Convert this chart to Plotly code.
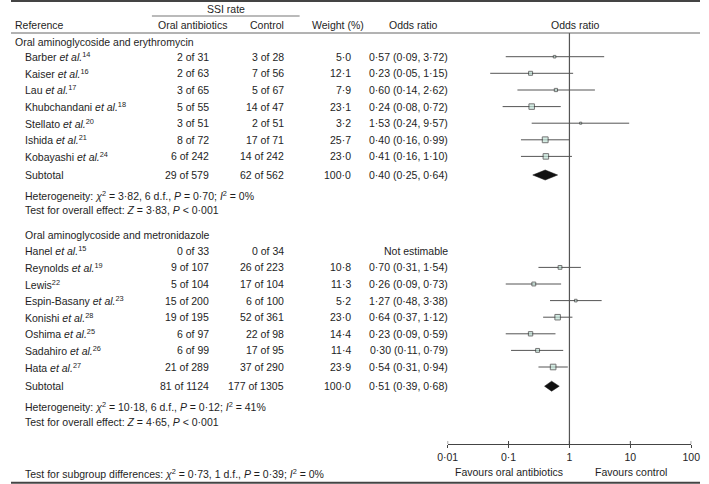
import plotly.graph_objects as go

# ---------------- data ----------------
group1_title = "Oral aminoglycoside and erythromycin"
group2_title = "Oral aminoglycoside and metronidazole"

g1_names = ["Barber <i>et al.</i><sup>14</sup>", "Kaiser <i>et al.</i><sup>16</sup>",
            "Lau <i>et al.</i><sup>17</sup>", "Khubchandani <i>et al.</i><sup>18</sup>",
            "Stellato <i>et al.</i><sup>20</sup>", "Ishida <i>et al.</i><sup>21</sup>",
            "Kobayashi <i>et al.</i><sup>24</sup>"]
g1_oral_ev = [2, 2, 3, 5, 3, 8, 6]
g1_oral_n = [31, 63, 65, 55, 51, 72, 242]
g1_ctrl_ev = [3, 7, 5, 14, 2, 17, 14]
g1_ctrl_n = [28, 56, 67, 47, 51, 71, 242]
g1_weight = [5.0, 12.1, 7.9, 23.1, 3.2, 25.7, 23.0]
g1_or = [0.57, 0.23, 0.60, 0.24, 1.53, 0.40, 0.41]
g1_lo = [0.09, 0.05, 0.14, 0.08, 0.24, 0.16, 0.16]
g1_hi = [3.72, 1.15, 2.62, 0.72, 9.57, 0.99, 1.10]
g1_sub = dict(oral="29 of 579", ctrl="62 of 562", w=100.0, orv=0.40, lo=0.25, hi=0.64)
g1_het = "Heterogeneity: <i>χ</i><sup>2</sup> = 3·82, 6 d.f., <i>P</i> = 0·70; <i>I</i><sup>2</sup> = 0%"
g1_test = "Test for overall effect: <i>Z</i> = 3·83, <i>P</i> &lt; 0·001"

g2_names = ["Hanel <i>et al.</i><sup>15</sup>", "Reynolds <i>et al.</i><sup>19</sup>",
            "Lewis<sup>22</sup>", "Espin-Basany <i>et al.</i><sup>23</sup>",
            "Konishi <i>et al.</i><sup>28</sup>", "Oshima <i>et al.</i><sup>25</sup>",
            "Sadahiro <i>et al.</i><sup>26</sup>", "Hata <i>et al.</i><sup>27</sup>"]
g2_oral_ev = [0, 9, 5, 15, 19, 6, 6, 21]
g2_oral_n = [33, 107, 104, 200, 195, 97, 99, 289]
g2_ctrl_ev = [0, 26, 17, 6, 52, 22, 17, 37]
g2_ctrl_n = [34, 223, 104, 100, 361, 98, 95, 290]
g2_weight = [None, 10.8, 11.3, 5.2, 23.0, 14.4, 11.4, 23.9]
g2_or = [None, 0.70, 0.26, 1.27, 0.64, 0.23, 0.30, 0.54]
g2_lo = [None, 0.31, 0.09, 0.48, 0.37, 0.09, 0.11, 0.31]
g2_hi = [None, 1.54, 0.73, 3.38, 1.12, 0.59, 0.79, 0.94]
g2_sub = dict(oral="81 of 1124", ctrl="177 of 1305", w=100.0, orv=0.51, lo=0.39, hi=0.68)
g2_het = "Heterogeneity: <i>χ</i><sup>2</sup> = 10·18, 6 d.f., <i>P</i> = 0·12; <i>I</i><sup>2</sup> = 41%"
g2_test = "Test for overall effect: <i>Z</i> = 4·65, <i>P</i> &lt; 0·001"

subgroup_text = "Test for subgroup differences: <i>χ</i><sup>2</sup> = 0·73, 1 d.f., <i>P</i> = 0·39; <i>I</i><sup>2</sup> = 0%"

tick_vals = [0.01, 0.1, 1, 10, 100]
tick_text = ["0·01", "0·1", "1", "10", "100"]

# ---------------- layout constants ----------------
W, H = 709, 484
FONT = "Liberation Sans, Arial, sans-serif"
FS = 10.5
TXT = "#1e1e1e"
AX_Y = 444
TOP_Y = 33

g1_rows = [56.7, 73.3, 90.0, 106.6, 123.2, 139.8, 156.4]
g1_header_y, g1_sub_y, g1_het_y, g1_test_y = 41.7, 175.0, 195.0, 210.5
g2_rows = [250.8, 267.4, 284.0, 300.6, 317.2, 333.8, 350.4, 367.0]
g2_header_y, g2_sub_y, g2_het_y, g2_test_y = 235.5, 386.2, 406.5, 421.8

def fmt(v, d=2):
    return f"{v:.{d}f}".replace(".", "·")

def px(x):
    return x / W

def py(y):
    return 1 - y / H

ann = []

def text(x, y, s, align="left", size=FS):
    ann.append(dict(x=px(x), y=py(y), xref="paper", yref="paper", text=s,
                    showarrow=False, xanchor=align, yanchor="middle",
                    font=dict(family=FONT, size=size, color=TXT)))

# headers
text(221, 9.5, "SSI rate", "center")
text(2, 25, "Reference")
text(187, 25, "Oral antibiotics", "center")
text(263.5, 25, "Control", "center")
text(337, 25, "Weight (%)", "center")
text(414, 25, "Odds ratio", "center")
text(581, 25, "Odds ratio", "center")

COL_ORAL, COL_CTRL, COL_W, COL_OR = 205.7, 282.7, 352, 452

def group(title, tx, ty, names, oev, on, cev, cn, w, orv, lo, hi, rows, sub, sy, het, hy, test, tyy):
    text(tx, ty, title)
    for i, nm in enumerate(names):
        y = rows[i]
        text(12, y, nm)
        text(COL_ORAL, y, f"{oev[i]} of {on[i]}", "right")
        text(COL_CTRL, y, f"{cev[i]} of {cn[i]}", "right")
        if w[i] is not None:
            text(COL_W, y, fmt(w[i], 1), "right")
            text(COL_OR, y, f"{fmt(orv[i])} ({fmt(lo[i])}, {fmt(hi[i])})", "right")
        else:
            text(COL_OR, y, "Not estimable", "right")
    text(12, sy, "Subtotal")
    text(COL_ORAL, sy, sub["oral"], "right")
    text(COL_CTRL, sy, sub["ctrl"], "right")
    text(COL_W, sy, fmt(sub["w"], 1), "right")
    text(COL_OR, sy, f"{fmt(sub['orv'])} ({fmt(sub['lo'])}, {fmt(sub['hi'])})", "right")
    text(12, hy, het)
    text(12, tyy, test)

group(group1_title, 2, g1_header_y, g1_names, g1_oral_ev, g1_oral_n, g1_ctrl_ev, g1_ctrl_n,
      g1_weight, g1_or, g1_lo, g1_hi, g1_rows, g1_sub, g1_sub_y, g1_het, g1_het_y, g1_test, g1_test_y)
group(group2_title, 12, g2_header_y, g2_names, g2_oral_ev, g2_oral_n, g2_ctrl_ev, g2_ctrl_n,
      g2_weight, g2_or, g2_lo, g2_hi, g2_rows, g2_sub, g2_sub_y, g2_het, g2_het_y, g2_test, g2_test_y)

text(12, 473.3, subgroup_text)
text(512, 471.5, "Favours oral antibiotics", "center")
text(638, 471.5, "Favours control", "center")

# ---------------- forest marks ----------------
fig = go.Figure()

ci_x, ci_y, mk_x, mk_y, mk_s = [], [], [], [], []
for orv, lo, hi, w, rows in [(g1_or, g1_lo, g1_hi, g1_weight, g1_rows),
                             (g2_or, g2_lo, g2_hi, g2_weight, g2_rows)]:
    for i in range(len(orv)):
        if orv[i] is None:
            continue
        ci_x += [lo[i], hi[i], None]
        ci_y += [rows[i], rows[i], None]
        mk_x.append(orv[i])
        mk_y.append(rows[i])
        mk_s.append(1.15 * w[i] ** 0.5)

fig.add_trace(go.Scatter(x=ci_x, y=ci_y, mode="lines",
                         line=dict(color="#555555", width=1), hoverinfo="skip"))
fig.add_trace(go.Scatter(x=mk_x, y=mk_y, mode="markers",
                         marker=dict(symbol="square", size=mk_s, color="#c4e6da",
                                     line=dict(color="#3c3c3c", width=1)),
                         hoverinfo="skip"))

for sub, sy in [(g1_sub, g1_sub_y), (g2_sub, g2_sub_y)]:
    fig.add_trace(go.Scatter(x=[sub["lo"], sub["orv"], sub["hi"], sub["orv"], sub["lo"]],
                             y=[sy, sy - 5, sy, sy + 5, sy], mode="lines", fill="toself",
                             fillcolor="#111111", line=dict(color="#111111", width=0.5),
                             hoverinfo="skip"))

shapes = [
    dict(type="line", xref="x", yref="y", x0=1, x1=1, y0=TOP_Y, y1=AX_Y,
         line=dict(color="#555555", width=1.2)),
    dict(type="line", xref="paper", yref="paper", x0=0, x1=1, y0=py(1), y1=py(1),
         line=dict(color="#444444", width=2)),
    dict(type="line", xref="paper", yref="paper", x0=0, x1=1, y0=py(33), y1=py(33),
         line=dict(color="#666666", width=1)),
    dict(type="line", xref="paper", yref="paper", x0=px(145), x1=px(297), y0=py(16), y1=py(16),
         line=dict(color="#777777", width=1.2)),
    dict(type="line", xref="paper", yref="paper", x0=0, x1=1, y0=py(482.8), y1=py(482.8),
         line=dict(color="#444444", width=2)),
]
for tv in tick_vals:
    shapes.append(dict(type="line", xref="x", yref="y", x0=tv, x1=tv, y0=AX_Y, y1=AX_Y - 3,
                       line=dict(color="#444444", width=1)))

fig.update_layout(
    width=W, height=H, margin=dict(l=0, r=0, t=0, b=0),
    paper_bgcolor="white", plot_bgcolor="white", showlegend=False,
    annotations=ann, shapes=shapes,
    xaxis=dict(type="log", range=[-2, 2], domain=[px(449.3), px(700)],
               showgrid=False, zeroline=False, showline=True, linecolor="#444444", linewidth=1,
               ticks="outside", ticklen=3, tickcolor="#444444", tickwidth=1,
               tickvals=tick_vals, ticktext=tick_text,
               tickfont=dict(family=FONT, size=FS, color=TXT), fixedrange=True),
    yaxis=dict(range=[AX_Y, TOP_Y], domain=[py(AX_Y), py(TOP_Y)], visible=False,
               showgrid=False, zeroline=False, fixedrange=True),
)

fig.write_html("out.html", config={"displayModeBar": False},
               post_script="document.body.style.margin='0px';document.body.style.overflow='hidden';")
